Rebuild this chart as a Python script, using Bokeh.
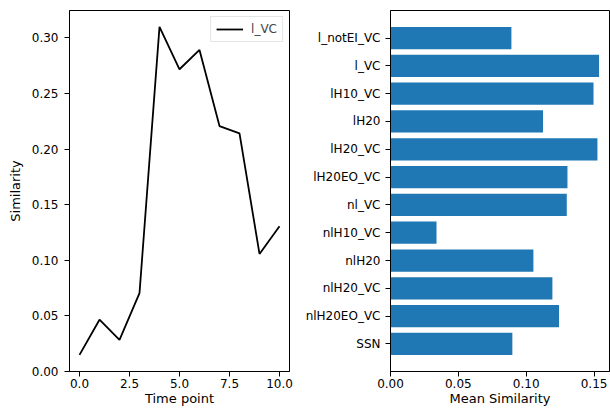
from bokeh.plotting import figure
from bokeh.layouts import row
from bokeh.models import Range1d, FixedTicker, NumeralTickFormatter, Legend, LegendItem
from bokeh.embed import file_html
from bokeh.resources import INLINE

# ---- data ----
time_points = [0, 1, 2, 3, 4, 5, 6, 7, 8, 9, 10]
similarity_lvc = [0.0150, 0.0466, 0.0285, 0.0705, 0.3099, 0.2718, 0.2892, 0.2207, 0.2141, 0.1057, 0.1306]
series_name = "l_VC"

conditions = ["l_notEI_VC", "l_VC", "lH10_VC", "lH20", "lH20_VC", "lH20EO_VC",
              "nl_VC", "nlH10_VC", "nlH20", "nlH20_VC", "nlH20EO_VC", "SSN"]
mean_similarity = [0.0891, 0.1537, 0.1496, 0.1124, 0.1525, 0.1304,
                   0.1299, 0.0339, 0.1053, 0.1193, 0.1242, 0.0898]

x_ticks_left = [0, 2.5, 5, 7.5, 10]
y_ticks_left = [0.0, 0.05, 0.10, 0.15, 0.20, 0.25, 0.30]
x_ticks_right = [0.0, 0.05, 0.10, 0.15]

FONT = "DejaVu Sans"
FS = "12px"
FS_LABEL = "13px"
H = 408


def style(p):
    p.outline_line_color = "black"
    p.outline_line_width = 1
    p.xgrid.visible = False
    p.ygrid.visible = False
    for ax in (p.xaxis[0], p.yaxis[0]):
        ax.axis_line_color = "black"
        ax.major_tick_line_color = "black"
        ax.minor_tick_line_color = None
        ax.major_tick_in = 0
        ax.major_tick_out = 5
        ax.major_label_text_font = FONT
        ax.major_label_text_font_size = FS
        ax.major_label_text_color = "black"
        ax.axis_label_text_font = FONT
        ax.axis_label_text_font_size = FS_LABEL
        ax.axis_label_text_font_style = "normal"
        ax.axis_label_text_color = "black"
    p.background_fill_color = "white"
    p.border_fill_color = "white"


# ---- left: line chart ----
ymax = max(similarity_lvc) + 0.05 * (max(similarity_lvc) - min(similarity_lvc))
xpad = 0.05 * (max(time_points) - min(time_points))
p1 = figure(width=300, height=H, output_backend="svg", toolbar_location=None,
            x_range=Range1d(min(time_points) - xpad, max(time_points) + xpad),
            y_range=Range1d(0, ymax),
            min_border_left=69, min_border_right=11, min_border_top=10, min_border_bottom=10)
r = p1.line(time_points, similarity_lvc, line_color="black", line_width=1.8)
p1.xaxis.ticker = FixedTicker(ticks=x_ticks_left)
p1.xaxis.formatter = NumeralTickFormatter(format="0.0")
p1.yaxis.ticker = FixedTicker(ticks=y_ticks_left)
p1.yaxis.formatter = NumeralTickFormatter(format="0.00")
p1.xaxis.axis_label = "Time point"
p1.yaxis.axis_label = "Similarity"
style(p1)
p1.xaxis.major_label_standoff = 2
p1.xaxis.axis_label_standoff = 0
p1.yaxis.major_label_standoff = 6
p1.yaxis.axis_label_standoff = 6

legend = Legend(items=[LegendItem(label=series_name, renderers=[r])], location="top_right")
legend.margin = 6
legend.padding = 5
legend.glyph_width = 27
legend.glyph_height = 14
legend.label_standoff = 8
legend.label_text_font = FONT
legend.label_text_font_size = FS
legend.label_height = 14
legend.border_line_color = "#cccccc"
legend.background_fill_alpha = 0.8
p1.add_layout(legend)

# ---- right: horizontal bars ----
n = len(conditions)
positions = list(range(n - 1, -1, -1))
p2 = figure(width=310, height=H, output_backend="svg", toolbar_location=None,
            x_range=Range1d(0, max(mean_similarity) * 1.05),
            y_range=Range1d(-0.99, n - 1 + 0.99),
            min_border_left=90, min_border_right=1, min_border_top=10, min_border_bottom=10)
p2.hbar(y=positions, right=mean_similarity, left=0, height=0.8,
        fill_color="#1f77b4", line_color=None)
p2.xaxis.ticker = FixedTicker(ticks=x_ticks_right)
p2.xaxis.formatter = NumeralTickFormatter(format="0.00")
p2.yaxis.ticker = FixedTicker(ticks=positions)
p2.yaxis.major_label_overrides = {pos: name for pos, name in zip(positions, conditions)}
p2.xaxis.axis_label = "Mean Similarity"
style(p2)
p2.xaxis.major_label_standoff = 2
p2.xaxis.axis_label_standoff = 0
p2.yaxis.major_label_standoff = 5

layout = row(p1, p2)
open("out.html", "w").write(file_html(layout, INLINE))
